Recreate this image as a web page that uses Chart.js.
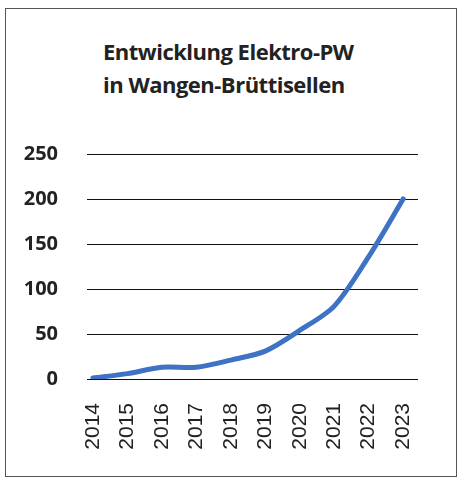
<!DOCTYPE html>
<html>
<head>
<meta charset="utf-8">
<script src="https://cdn.jsdelivr.net/npm/chart.js@4"></script>
<style>
  html, body { margin: 0; padding: 0; background: #fff; }
  #frame { position: absolute; left: 5px; top: 8px; width: 450px; height: 467px; border: 1.5px solid #555; }
  #title { position: absolute; left: 103px; top: 35px; font: bold 22px "Open Sans", sans-serif; line-height: 33px; color: #222; letter-spacing: -0.5px; }
  #wrap { position: absolute; left: 0; top: 0; width: 463px; height: 478px; }
</style>
</head>
<body>
<div id="frame"></div>
<div id="title">Entwicklung Elektro-PW<br>in Wangen-Brüttisellen</div>
<div id="wrap"><canvas id="lineChart" width="463" height="478"></canvas></div>
<script>
// setup
const years = ['2014', '2015', '2016', '2017', '2018', '2019', '2020', '2021', '2022', '2023'];
const cars = [1, 6, 13, 13, 21, 31, 54, 81, 136, 200];
const yTicks = [0, 50, 100, 150, 200, 250];

const data = {
  datasets: [{
    label: 'Elektro-PW',
    data: cars.map((v, i) => ({ x: i, y: v })),
    borderColor: '#3d72c4',
    borderWidth: 5,
    borderCapStyle: 'round',
    pointRadius: 0,
    tension: 0.3,
    fill: false
  }]
};

// config
const config = {
  type: 'line',
  data,
  options: {
    responsive: false,
    animation: false,
    layout: { padding: { left: 0, right: 45, top: 154, bottom: 0 } },
    plugins: { legend: { display: false }, tooltip: { enabled: false } },
    scales: {
      x: {
        type: 'linear',
        min: -0.17,
        max: 9.43,
        grid: { display: false },
        border: { display: false },
        afterBuildTicks: s => { s.ticks = years.map((y, i) => ({ value: i })); },
        afterFit: s => { s.height = 99; },
        ticks: {
          minRotation: 90,
          maxRotation: 90,
          padding: 16,
          color: '#222',
          font: { family: 'Liberation Sans', size: 21 },
          callback: v => years[v]
        }
      },
      y: {
        min: 0,
        max: 250,
        afterBuildTicks: s => { s.ticks = yTicks.map(v => ({ value: v })); },
        afterFit: s => { s.width = 87; },
        grid: { color: '#111', lineWidth: 1, drawTicks: false },
        border: { display: false },
        ticks: {
          padding: 29,
          color: '#222',
          font: { family: 'Open Sans', size: 20, weight: 'bold' }
        }
      }
    }
  }
};

// render init block
const lineChart = new Chart(document.getElementById('lineChart'), config);
</script>
</body>
</html>
